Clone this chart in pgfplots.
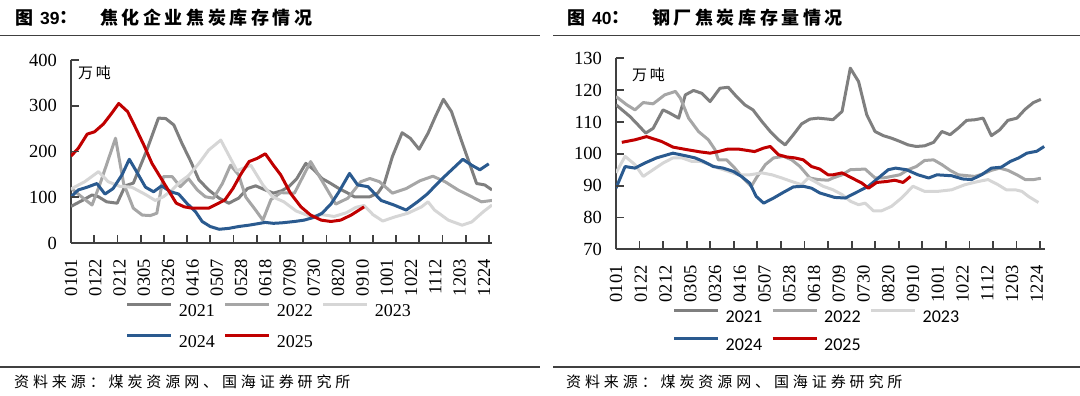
\documentclass[border=0pt]{standalone}
\usepackage{fontspec}
\usepackage{pgfplots}
\pgfplotsset{compat=1.18}
\setmainfont{Liberation Serif}
\newfontfamily\cjk{Noto Sans CJK SC}
\newfontfamily\cjkt[LetterSpace=20]{Noto Sans CJK SC}
\newfontfamily\cjks[LetterSpace=26]{Noto Sans CJK SC}
\newfontfamily\cjku[LetterSpace=18]{Noto Sans CJK SC}
\newfontfamily\arialf{Liberation Sans}
\newfontfamily\calib{Carlito}
\definecolor{c21}{HTML}{7F7F7F}
\definecolor{c22}{HTML}{A6A6A6}
\definecolor{c23}{HTML}{D6D6D6}
\definecolor{c24}{HTML}{2A5A8F}
\definecolor{c25}{HTML}{C00000}
\definecolor{axc}{HTML}{404040}
\pgfplotsset{
  base/.style={
    scale only axis, xmin=0, xmax=52,
    axis x line*=bottom, axis y line*=left,
    axis line style={draw=axc, line width=1.8pt},
    tick align=inside, major tick length=0pt,
    tick style={draw=none},
    xtick={0,3,...,51},
    xticklabels={0101,0122,0212,0305,0326,0416,0507,0528,0618,0709,0730,0820,0910,1001,1022,1112,1203,1224},
    xticklabel style={rotate=90, anchor=east, inner sep=0pt},
    xticklabel shift=16pt,
    yticklabel style={anchor=east, inner sep=0pt},
    yticklabel shift=14pt,
    ticklabel style={font=\fontsize{18.5}{20}\selectfont},
    /pgf/number format/assume math mode=true,
    every axis plot/.append style={line width=3pt, line join=round, mark=none},
    legend columns=3, legend cell align=left,
    legend image code/.code={\draw[##1] (0pt,6pt) -- (44pt,6pt);},
  }
}
\begin{document}
\begin{tikzpicture}[x=1pt,y=1pt]
\path[use as bounding box] (0,0) rectangle (1080,396);
% titles
\node[anchor=west, inner sep=0] at (15,378) {\fontsize{18}{20}\selectfont\cjk\bfseries 图};
\node[anchor=west, inner sep=0] at (40,378) {\fontsize{17.5}{20}\selectfont\arialf\bfseries 39};
\node[anchor=west, inner sep=0] at (59,378) {\fontsize{18}{20}\selectfont\cjk\bfseries ：};
\node[anchor=west, inner sep=0] at (100,378) {\fontsize{18}{20}\selectfont\cjkt\bfseries 焦化企业焦炭库存情况};
\node[anchor=west, inner sep=0] at (567,378) {\fontsize{18}{20}\selectfont\cjk\bfseries 图};
\node[anchor=west, inner sep=0] at (592,378) {\fontsize{17.5}{20}\selectfont\arialf\bfseries 40};
\node[anchor=west, inner sep=0] at (611,378) {\fontsize{18}{20}\selectfont\cjk\bfseries ：};
\node[anchor=west, inner sep=0] at (652,378) {\fontsize{18}{20}\selectfont\cjkt\bfseries 钢厂焦炭库存量情况};
\draw[line width=1.3pt, black!75] (0,360.5) -- (540,360.5);
\draw[line width=1.3pt, black!75] (553,360.5) -- (1080,360.5);
\draw[line width=1.3pt, black!75] (0,29) -- (540,29);
\draw[line width=1.3pt, black!75] (553,29) -- (1080,29);
\node[anchor=west, inner sep=0] at (14,14) {\fontsize{15}{18}\selectfont\cjks 资料来源：煤炭资源网、国海证券研究所};
\node[anchor=west, inner sep=0] at (566,14) {\fontsize{15}{18}\selectfont\cjks 资料来源：煤炭资源网、国海证券研究所};
\node[anchor=west, inner sep=0] at (78,323) {\fontsize{15}{18}\selectfont\cjku 万吨};
\node[anchor=west, inner sep=0] at (632,321) {\fontsize{15}{18}\selectfont\cjku 万吨};

% left axis
\begin{axis}[base,
  at={(71pt,153pt)}, anchor=south west, width=421pt, height=183pt,
  ymin=0, ymax=400, ytick={0,100,...,400},
  legend style={at={(0.469,-0.325)}, anchor=north, draw=none, fill=none, inner sep=0pt,
    font=\fontsize{18}{20}\selectfont, row sep=17pt,
    nodes={inner sep=0pt, text height=13pt, text depth=0pt},
    /tikz/every odd column/.append style={column sep=6pt},
    /tikz/every even column/.append style={column sep=9pt}},
]
\addplot[c21] coordinates {(0,80) (1.5,94) (2.6,105) (3.4,101) (4.4,90) (5.7,87) (6.7,125) (7.7,131) (9.3,200) (10.8,273) (11.7,272) (12.7,258) (13.7,218) (14.8,178) (15.8,138) (17,116) (18.3,98) (19.5,87) (20.7,98) (21.8,119) (22.8,125) (24,116) (25,109) (26,114) (26.9,123) (27.9,141) (29,174) (30,160) (31,141) (32.1,130) (33.1,119) (34.2,109) (35,101) (36.9,101) (37.9,109) (38.7,130) (39.7,189) (40.9,241) (41.9,229) (43,205) (44.1,240) (45,276) (46,314) (47,287) (48.2,225) (49.3,170) (50.1,130) (51.1,127) (52,116)};
\addlegendentry{2021}
\addplot[c22] coordinates {(0,120) (1.3,101) (2.6,83) (3.6,130) (5.5,229) (6.5,130) (7.7,76) (8.8,61) (9.8,60) (10.6,65) (11.4,145) (12.5,145) (13.5,123) (14.5,141) (15.6,116) (16.6,101) (17.6,98) (18.7,130) (19.7,170) (20.7,149) (21.6,100) (22.8,72) (23.7,50) (24.7,95) (25.9,110) (27.6,109) (29.6,178) (31.3,127) (32.7,85) (34.2,98) (35.8,134) (36.9,141) (38.1,134) (39.7,109) (41.4,119) (43.1,136) (44.7,146) (46.2,134) (47.8,116) (49.5,101) (50.7,90) (52,93)};
\addlegendentry{2022}
\addplot[c23] coordinates {(0,118) (1.7,134) (3.4,156) (4.6,134) (6,124) (7.5,122) (9.2,106) (10.4,93) (11.4,101) (12.5,116) (13.5,134) (14.5,147) (15.8,174) (17,203) (18.5,225) (20.5,158) (22.2,170) (23.7,127) (24.9,101) (26.3,90) (27.8,70) (29.6,58) (31,62) (32.5,58) (34,66) (35.2,78) (36.2,82) (37.3,62) (38.5,48) (40,57) (41.6,65) (43.3,79) (44.1,90) (44.9,72) (46.6,50) (48.3,39) (49.5,46) (50.9,68) (52,83)};
\addlegendentry{2023}
\addplot[c24] coordinates {(0,101) (0.9,116) (2,122) (3.2,130) (4.2,107) (5.2,119) (6.3,149) (7.2,183) (8.1,156) (9.2,122) (10.2,112) (11.2,125) (12.3,112) (13.3,107) (14.3,87) (15.4,68) (16.2,47) (17.2,36) (18.3,30) (19.5,32) (20.7,36) (22,39) (23,42) (24,45) (25,43) (26,44) (27.6,47) (28.8,50) (30,56) (31,65) (32.1,85) (33.1,112) (34.4,152) (35.4,127) (36.7,123) (38.3,93) (39.9,83) (41.4,72) (42.8,90) (44,107) (45.7,138) (48.4,183) (49.5,170) (50.5,160) (51.6,173)};
\addlegendentry{2024}
\addplot[c25] coordinates {(0,190) (0.9,207) (2,238) (2.9,243) (4,260) (5,283) (5.9,305) (7,287) (8,251) (9,214) (10,174) (11,145) (12,116) (13,87) (14,79) (15,76) (16,76) (17,76) (18,85) (19,94) (20,119) (21,151) (22,178) (23,185) (24,195) (25,170) (25.9,149) (27.1,109) (28.4,79) (29.6,61) (30.9,50) (32.1,47) (33.3,50) (34.6,61) (36.2,79)};
\addlegendentry{2025}
\end{axis}

% right axis
\begin{axis}[base,
  at={(616pt,146.7pt)}, anchor=south west, width=429pt, height=191pt,
  ymin=70, ymax=130, ytick={70,80,...,130},
  legend style={at={(0.466,-0.310)}, anchor=north, draw=none, fill=none, inner sep=0pt,
    font=\fontsize{18}{20}\selectfont\calib, row sep=14pt,
    nodes={inner sep=0pt, text height=13pt, text depth=0pt},
    /tikz/every odd column/.append style={column sep=6pt},
    /tikz/every even column/.append style={column sep=9pt}},
]
\addplot[c21] coordinates {(0,115.4) (1.7,111.7) (2.7,109) (3.6,106.5) (4.5,108) (5.7,113.8) (6.5,112.8) (7.6,111.2) (8.4,118.5) (9.4,119.9) (10.4,119) (11.4,116.4) (12.6,120.6) (13.6,120.9) (14.6,118) (15.6,115.4) (16.6,113.8) (17.7,110.1) (18.7,107) (19.7,104.4) (20.5,102.8) (21.5,106) (22.5,109.4) (23.5,110.9) (24.5,111.2) (25.7,110.9) (26.3,110.7) (27.4,113.3) (28.4,126.9) (29.4,122.7) (30.4,112.2) (31.4,107) (32.4,105.7) (33.4,104.9) (34.4,103.9) (35.4,102.8) (36.4,102.3) (37.4,102.5) (38.5,103.6) (39.5,107) (40.5,106) (41.5,108.1) (42.5,110.5) (43.5,110.7) (44.5,111.2) (45.5,105.7) (46.5,107.5) (47.5,110.5) (48.6,111.2) (49.6,114) (50.6,116.1) (51.5,117.1)};
\addlegendentry{2021}
\addplot[c22] coordinates {(0,118) (1.3,115.4) (2.3,113.8) (3.3,116.1) (4.5,115.7) (5.9,118.5) (7.2,119.6) (7.8,117.5) (8.8,111.2) (10,107) (11.2,104.4) (12,101.3) (12.4,98.1) (13.4,98.1) (14.4,95.5) (15.4,92.4) (16.4,89.8) (17,92.4) (18.1,96.6) (19.1,98.7) (20.3,99.2) (21.3,98.1) (22.3,96) (23.5,92.4) (24.5,91.9) (25.7,91.7) (26.3,92.4) (27.4,93.4) (28.4,95) (30.2,95.2) (31.4,92.4) (32.4,92.4) (33.4,92.9) (34.4,93.4) (35.4,95) (36.4,96) (37.4,97.9) (38.5,98.1) (39.5,96.6) (40.5,94.8) (41.5,93.4) (43.5,92.9) (44.5,93.7) (45.5,94.8) (46.5,95.5) (47.5,94.8) (48.6,93.4) (49.6,91.9) (50.6,91.9) (51.5,92.3)};
\addlegendentry{2022}
\addplot[c23] coordinates {(0,94) (1.1,99.2) (2.3,96.6) (3.3,92.9) (4.5,95) (5.7,97.1) (6.9,98.7) (8,98.7) (9.2,97.6) (10.2,97.6) (11.4,96.6) (12.4,95.5) (13.6,94.5) (14.8,93.4) (16.2,93.4) (17.7,94) (18.9,93.4) (20.1,92.4) (21.3,91.3) (22.5,90.3) (23.3,92.4) (24.1,91.3) (25.1,89.8) (26.3,88.7) (27.4,87.2) (28.4,85.1) (29.4,84) (30.2,84.5) (31.2,82.1) (32.2,82.1) (33.4,83.5) (34.6,86.1) (36,89.8) (37.4,88.2) (39,88.2) (40.7,88.7) (42.3,90.3) (43.9,91.3) (45.1,91.9) (46.3,90.3) (47.3,88.7) (48.4,88.7) (49.2,88.2) (50,86.6) (51.2,84.7)};
\addlegendentry{2023}
\addplot[c24] coordinates {(0,89.2) (1.1,96) (2.3,95.5) (3.5,97.1) (4.9,98.7) (6.9,100.2) (8.4,99.4) (9.6,98.7) (10.6,97.6) (11.8,96) (13,95.5) (14.2,94.5) (15.2,92.9) (16.2,90.8) (17,86.6) (17.9,84.5) (19.1,86.1) (20.3,87.9) (21.5,89.6) (22.7,89.8) (23.7,89.2) (24.7,87.7) (26.5,86.3) (27.8,86.1) (29,87.7) (30.6,89.8) (31.8,92.4) (33,95) (33.9,95.5) (35.2,95) (36.6,93.4) (37.9,92.4) (38.9,93.4) (40.7,93.1) (42,92.1) (43.1,91.9) (44.3,93.4) (45.5,95.5) (46.7,95.8) (47.8,97.6) (48.8,98.7) (49.8,100.2) (51,100.8) (51.9,102.3)};
\addlegendentry{2024}
\addplot[c25] coordinates {(0.7,103.6) (2.3,104.4) (3.7,105.4) (5.5,103.9) (6.9,102.1) (8.6,101.3) (10.2,100.6) (11.4,100.2) (12.4,100.7) (13.6,101.5) (14.8,101.5) (15.8,101.1) (16.8,100.7) (17.9,101.8) (18.7,102.3) (19.7,99.7) (20.7,99) (21.7,98.7) (22.7,98.1) (23.7,96) (24.7,95.2) (25.7,93.4) (26.3,93.4) (27.4,94) (28.6,92.4) (29.8,90.8) (30.6,89.2) (31.6,91) (32.8,91.3) (33.8,91.7) (34.8,91) (35.7,92.9)};
\addlegendentry{2025}
\end{axis}

% tick marks (axis decoration), drawn last
\foreach \j in {1,...,18} {\draw[axc, line width=1.8pt] ({71+23.22*\j},152.5) -- ({71+23.22*\j},161);}
\foreach \j in {0,...,4} {\draw[axc, line width=1.8pt] (70.5,{153+45.75*\j}) -- (79,{153+45.75*\j});}
\foreach \j in {1,...,18} {\draw[axc, line width=1.8pt] ({616+23.56*\j},146.2) -- ({616+23.56*\j},154.7);}
\foreach \j in {0,...,6} {\draw[axc, line width=1.8pt] (615.5,{146.7+31.83*\j}) -- (624,{146.7+31.83*\j});}
\end{tikzpicture}
\end{document}
